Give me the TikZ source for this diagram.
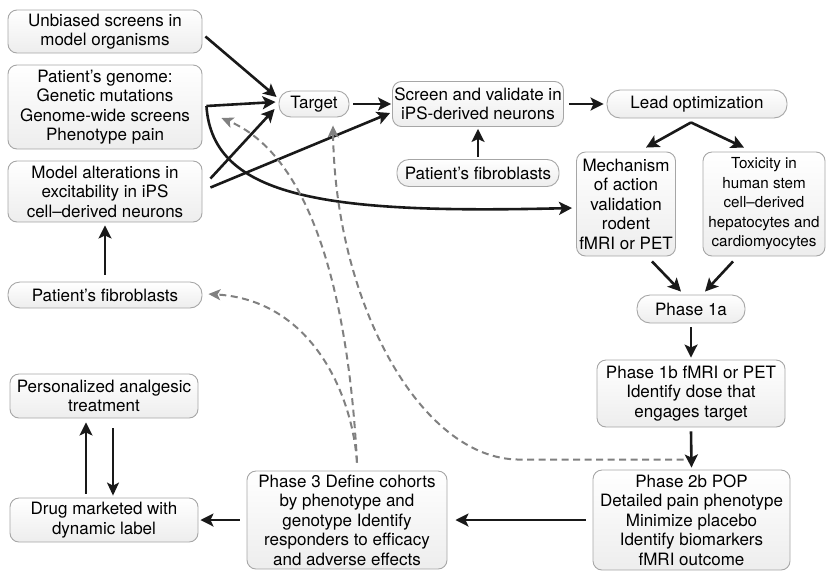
\documentclass[tikz,border=0pt]{standalone}
\usepackage{fontspec}
\setmainfont{TeX Gyre Heros}
\usepackage{tikz}
\usetikzlibrary{arrows.meta, positioning, calc}
\tikzset{
  flowbox/.style={
    draw=gray!70, rounded corners=9pt, line width=0.9pt, align=center,
    top color=white, bottom color=gray!14, text=black,
    font=\fontsize{17}{19.5}\selectfont, inner xsep=1pt, inner ysep=2pt
  },
  flowarrow/.style={
    -{Stealth[length=13pt, width=13pt, inset=3pt]}, line width=2.6pt, color=black!90
  },
  thinarrow/.style={
    -{Stealth[length=13pt, width=12pt, inset=3pt]}, line width=1.6pt, color=black!90
  },
  backarrow/.style={
    -{Stealth[length=12pt, width=11pt, inset=3pt]}, line width=2pt,
    color=gray, dash pattern=on 7pt off 4.5pt
  },
}

\begin{document}
\begin{tikzpicture}[x=1pt, y=-1pt]
  \useasboundingbox (0,0) rectangle (826,571);

  % === Left column ===
  \node[flowbox, minimum width=194pt, minimum height=43pt] (unbiased) at (105,31.5)
    {Unbiased screens in\\model organisms};
  \node[flowbox, minimum width=194pt, minimum height=84pt] (genome) at (105,107)
    {Patient's genome:\\Genetic mutations\\Genome-wide screens\\Phenotype pain};
  \node[flowbox, minimum width=194pt, minimum height=61pt] (model) at (105,191.5)
    {Model alterations in\\excitability in iPS\\cell--derived neurons};
  \node[flowbox, minimum width=194pt, minimum height=26pt, rounded corners=12pt] (fibroA) at (105,295)
    {Patient's fibroblasts};

  % === Top row ===
  \node[flowbox, minimum width=70pt, minimum height=26pt, rounded corners=12pt] (target) at (314,104)
    {Target};
  \node[flowbox, minimum width=171pt, minimum height=45pt] (screen) at (478,104)
    {Screen and validate in\\iPS-derived neurons};
  \node[flowbox, minimum width=162pt, minimum height=27pt, rounded corners=12pt] (fibroB) at (478,173)
    {Patient's fibroblasts};
  \node[flowbox, minimum width=180pt, minimum height=28pt, rounded corners=13pt] (lead) at (697,104)
    {Lead optimization};

  % === Preclinical ===
  \node[flowbox, minimum width=99pt, minimum height=104pt] (mech) at (626,204)
    {Mechanism\\of action\\validation\\rodent\\fMRI or PET};
  \node[flowbox, minimum width=122pt, minimum height=104pt, font=\fontsize{15.2}{19.5}\selectfont] (tox) at (764,204)
    {Toxicity in\\human stem\\cell--derived\\hepatocytes and\\cardiomyocytes};

  % === Clinical phases ===
  \node[flowbox, minimum width=108pt, minimum height=28pt, rounded corners=13pt] (phaseA) at (691,309)
    {Phase 1a};
  \node[flowbox, minimum width=188pt, minimum height=67pt] (phaseB) at (691,393.5)
    {Phase 1b fMRI or PET\\Identify dose that\\engages target};
  \node[flowbox, minimum width=197pt, minimum height=100pt] (phaseC) at (691.5,520)
    {Phase 2b POP\\Detailed pain phenotype\\Minimize placebo\\Identify biomarkers\\fMRI outcome};
  \node[flowbox, minimum width=200pt, minimum height=98pt] (phaseD) at (347,520)
    {Phase 3 Define cohorts\\by phenotype and\\genotype Identify\\responders to efficacy\\and adverse effects};

  % === Market ===
  \node[flowbox, minimum width=188pt, minimum height=44pt] (drug) at (104,520)
    {Drug marketed with\\dynamic label};
  \node[flowbox, minimum width=188pt, minimum height=44pt] (personal) at (104,396)
    {Personalized analgesic\\treatment};

  % === Arrows ===
  \draw[flowarrow] ([xshift=3pt,yshift=-5pt]unbiased.east) -- ([xshift=-2pt,yshift=7pt]target.west);
  \draw[flowarrow] ([xshift=4pt,yshift=1pt]genome.east) -- ([xshift=-3pt,yshift=2pt]target.west);
  \draw[flowarrow] ([xshift=8pt,yshift=13pt]model.east) -- ([xshift=-4pt,yshift=-5pt]target.west);
  \draw[flowarrow] ([xshift=8pt,yshift=4pt]model.east) -- ([xshift=-2pt,yshift=-9pt]screen.west);
  \draw[flowarrow] ([xshift=4pt,yshift=1pt]genome.east) .. controls +(6,93) and +(-242,6) .. ([xshift=-4pt,yshift=-4pt]mech.west);
  \draw[flowarrow] ([yshift=7pt]fibroA.north) -- ([yshift=-3pt]model.south);

  \draw[flowarrow] ([xshift=4pt]target.east) -- ([xshift=-1pt]screen.west);
  \draw[flowarrow] ([xshift=5pt]screen.east) -- ([xshift=-3pt]lead.west);
  \draw[flowarrow] ([yshift=2pt]fibroB.north) -- ([yshift=-2pt]screen.south);
  \draw[flowarrow] ([xshift=-6pt,yshift=-4pt]lead.south) -- ([xshift=20pt,yshift=4pt]mech.north);
  \draw[flowarrow] ([xshift=-6pt,yshift=-4pt]lead.south) -- ([xshift=-20pt,yshift=4pt]tox.north);
  \draw[flowarrow] ([xshift=26pt,yshift=-5pt]mech.south) -- ([xshift=-10pt,yshift=3pt]phaseA.north);
  \draw[flowarrow] ([xshift=-31pt,yshift=-5pt]tox.south) -- ([xshift=14pt,yshift=3pt]phaseA.north);
  \draw[flowarrow] ([yshift=-4pt]phaseA.south) -- ([yshift=2pt]phaseB.north);
  \draw[flowarrow] ([yshift=-4pt]phaseB.south) -- ([yshift=2pt]phaseC.north);
  \draw[flowarrow] ([xshift=-7pt]phaseC.west) -- ([xshift=8pt]phaseD.east);
  \draw[flowarrow] ([xshift=-7pt]phaseD.west) -- ([xshift=2pt]drug.east);
  \draw[flowarrow] ([xshift=-18pt,yshift=4pt]drug.north) -- ([xshift=-18pt,yshift=-4pt]personal.south);
  \draw[thinarrow] ([xshift=9pt,yshift=-10pt]personal.south) -- ([xshift=9pt,yshift=2pt]drug.north);

  % === Feedback (dashed) ===
  \draw[backarrow] ([xshift=10pt,yshift=8pt]phaseD.north) .. controls +(-7,-138) and +(99,42) .. ([xshift=19pt,yshift=-11pt]genome.east);
  \draw[backarrow] ([xshift=10pt,yshift=8pt]phaseD.north) .. controls +(-5,-72) and +(101,6) .. ([xshift=6pt,yshift=1pt]fibroA.east);
  \draw[backarrow] ([xshift=-8pt,yshift=10pt]phaseC.north) -- ++(-164,0) .. controls +(-100,0) and +(2,175) .. ([xshift=19pt,yshift=-8pt]target.south);

\end{tikzpicture}
\end{document}
